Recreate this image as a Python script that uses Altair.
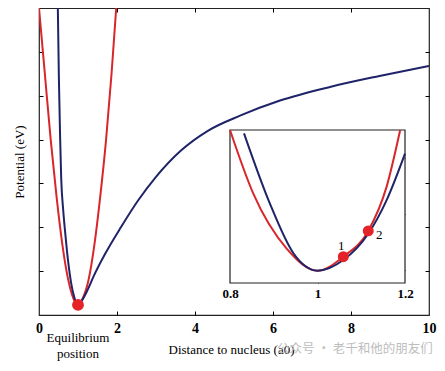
import altair as alt
import pandas as pd

# ---------------- data ----------------
# main panel: harmonic (red) and Morse-like (blue) potentials
red_x = [0.0, 0.15, 0.30, 0.45, 0.60, 0.75, 0.88, 1.0, 1.12, 1.27, 1.42, 1.57, 1.72, 1.86, 1.98]
red_y = [7.0, 5.5, 4.0, 2.7, 1.6, 0.8, 0.38, 0.23, 0.38, 0.8, 1.6, 2.7, 4.0, 5.5, 7.0]

blue_x = [0.483, 0.51, 0.54, 0.57, 0.62, 0.68, 0.75, 0.82, 0.90, 1.0, 1.10, 1.25, 1.40,
          1.70, 2.10, 2.54, 3.0, 3.64, 4.33, 5.17, 6.18, 7.46, 8.73, 10.0]
blue_y = [7.0, 5.4, 4.1, 3.1, 2.4, 1.8, 1.2, 0.75, 0.42, 0.23, 0.33, 0.58, 0.88,
          1.40, 2.0, 2.61, 3.15, 3.75, 4.2, 4.55, 4.89, 5.2, 5.45, 5.68]

eq_x = [1.0]
eq_y = [0.23]

# inset: zoom around the minimum
ired_x = [0.80, 0.853, 0.93, 1.0, 1.059, 1.116, 1.158, 1.189]
ired_y = [0.50, 0.387, 0.288, 0.249, 0.274, 0.320, 0.399, 0.50]

iblue_x = [0.832, 0.891, 0.945, 1.0, 1.059, 1.116, 1.158, 1.20]
iblue_y = [0.494, 0.369, 0.280, 0.249, 0.268, 0.315, 0.375, 0.458]

pt_x = [1.059, 1.116]
pt_y = [0.274, 0.320]
pt_lab = ["1", "2"]

main_xticks = [0, 2, 4, 6, 8, 10]
main_inner_xticks = [2, 4, 6, 8]
main_yticks = [1, 2, 3, 4, 5, 6]
inset_xticks = [0.8, 1.0, 1.2]
inset_yticks = [0.25, 0.35, 0.45]

# ---------------- layout / style ----------------
W, H = 390, 307
INS_L, INS_R, INS_T, INS_B = 191, 366, 122, 275
RED = "#d8262b"
BLUE = "#1f2468"
SERIF = "Liberation Serif"

SX = alt.Scale(domain=[0, 10], nice=False, zero=False)
SY = alt.Scale(domain=[0, 7], nice=False, zero=False)
IX = alt.Scale(domain=[0.8, 1.2], range=[INS_L, INS_R], nice=False, zero=False)
IY = alt.Scale(domain=[0.227, 0.50], range=[INS_B, INS_T], nice=False, zero=False)


def tick_axis(orient, offset, values, size=4):
    return alt.Axis(orient=orient, offset=offset, values=values, labels=False,
                    domain=False, ticks=True, tickSize=size, tickColor="black",
                    tickWidth=1, grid=False, title=None)


df_red = pd.DataFrame({"x": red_x, "y": red_y})
df_blue = pd.DataFrame({"x": blue_x, "y": blue_y})
df_eq = pd.DataFrame({"x": eq_x, "y": eq_y})
df_ired = pd.DataFrame({"x": ired_x, "y": ired_y})
df_iblue = pd.DataFrame({"x": iblue_x, "y": iblue_y})
df_pts = pd.DataFrame({"x": pt_x, "y": pt_y, "lab": pt_lab})

x_lab_axis = alt.Axis(orient="bottom", values=main_xticks, ticks=False, tickSize=0,
                      domain=False, grid=False, labelFlush=False, labelPadding=6,
                      labelFont=SERIF, labelFontWeight="bold", labelFontSize=14,
                      labelColor="black", format="d",
                      title="Distance to nucleus (a0)", titleX=W / 2 - 3, titleY=34,
                      titleBaseline="middle", titleFont=SERIF, titleFontWeight="normal",
                      titleFontSize=13, titleColor="black")
y_title_axis = alt.Axis(orient="left", labels=False, ticks=False, domain=False, grid=False,
                        title="Potential (eV)", titleX=-20, titleY=H / 2, titleAngle=270,
                        titleAlign="center", titleBaseline="middle", titleFont=SERIF,
                        titleFontWeight="normal", titleFontSize=13, titleColor="black")

red_line = alt.Chart(df_red).mark_line(color=RED, strokeWidth=2, clip=True,
                                       interpolate="monotone").encode(
    x=alt.X("x:Q", scale=SX, axis=x_lab_axis),
    y=alt.Y("y:Q", scale=SY, axis=y_title_axis),
)

blue_line = alt.Chart(df_blue).mark_line(color=BLUE, strokeWidth=2, clip=True,
                                         interpolate="monotone").encode(
    x=alt.X("x:Q", scale=SX, axis=tick_axis("top", -H, main_inner_xticks)),
    y=alt.Y("y:Q", scale=SY, axis=tick_axis("right", -W, main_yticks)),
)

eq_dot = alt.Chart(df_eq).mark_circle(color="#e52228", size=140, opacity=1).encode(
    x=alt.X("x:Q", scale=SX, axis=tick_axis("bottom", -H, main_inner_xticks)),
    y=alt.Y("y:Q", scale=SY, axis=tick_axis("left", -W, main_yticks)),
)

eq_text = alt.Chart(df_eq).mark_text(text=["Equilibrium", "position"], font=SERIF,
                                     fontSize=13, color="black", baseline="top",
                                     lineHeight=16, dy=17).encode(
    x=alt.X("x:Q", scale=SX, axis=None),
    y=alt.Y(datum=0, scale=SY, axis=None),
)

watermark = alt.Chart(df_eq).mark_text(text="公众号 · 老千和他的朋友们",
                                       font="Noto Sans CJK SC", fontSize=12.5,
                                       color="#bdbdbd", baseline="middle", dy=34).encode(
    x=alt.X(datum=8.1, scale=SX, axis=None),
    y=alt.Y(datum=0, scale=SY, axis=None),
)

inset_x_axis = alt.Axis(orient="bottom", offset=INS_B - H, values=inset_xticks, ticks=False,
                        tickSize=0, domain=False, grid=False, labelFlush=False,
                        labelPadding=4, labelFont=SERIF, labelFontWeight="bold",
                        labelFontSize=13, labelColor="black", format="~g", title=None)

inset_box = alt.Chart(df_eq).mark_rect(fill="white", stroke="#222222", strokeWidth=1.2).encode(
    x=alt.X(datum=0.8, scale=IX, axis=inset_x_axis),
    x2=alt.X2(datum=1.2),
    y=alt.Y(datum=0.227, scale=IY, axis=tick_axis("right", INS_L - W, inset_yticks)),
    y2=alt.Y2(datum=0.50),
)

inset_red = alt.Chart(df_ired).mark_line(color=RED, strokeWidth=2,
                                         interpolate="monotone").encode(
    x=alt.X("x:Q", scale=IX, axis=tick_axis("top", -INS_B, [1.0])),
    y=alt.Y("y:Q", scale=IY, axis=tick_axis("left", -INS_R, inset_yticks)),
)

inset_blue = alt.Chart(df_iblue).mark_line(color=BLUE, strokeWidth=2,
                                           interpolate="monotone").encode(
    x=alt.X("x:Q", scale=IX, axis=tick_axis("bottom", INS_T - H, [1.0])),
    y=alt.Y("y:Q", scale=IY, axis=None),
)

inset_pts = alt.Chart(df_pts).mark_circle(color="#e52228", size=120, opacity=1).encode(
    x=alt.X("x:Q", scale=IX, axis=None),
    y=alt.Y("y:Q", scale=IY, axis=None),
)

inset_lab1 = alt.Chart(df_pts[df_pts.lab == "1"]).mark_text(
    font=SERIF, fontSize=13, color="black", dx=-2, dy=-11).encode(
    x=alt.X("x:Q", scale=IX, axis=None),
    y=alt.Y("y:Q", scale=IY, axis=None),
    text="lab:N",
)

inset_lab2 = alt.Chart(df_pts[df_pts.lab == "2"]).mark_text(
    font=SERIF, fontSize=13, color="black", dx=11, dy=4).encode(
    x=alt.X("x:Q", scale=IX, axis=None),
    y=alt.Y("y:Q", scale=IY, axis=None),
    text="lab:N",
)

chart = alt.layer(
    red_line, blue_line, eq_dot, eq_text, watermark,
    inset_box, inset_red, inset_blue, inset_pts, inset_lab1, inset_lab2,
).resolve_scale(
    x="independent", y="independent"
).resolve_axis(
    x="independent", y="independent"
).properties(
    width=W, height=H,
    autosize=alt.AutoSizeParams(type="none"),
    padding={"left": 31, "top": 0, "right": 8, "bottom": 48},
).configure_view(
    stroke="#222222", strokeWidth=1.2
)

chart.save("out.html", embed_options={"renderer": "svg", "actions": False})
